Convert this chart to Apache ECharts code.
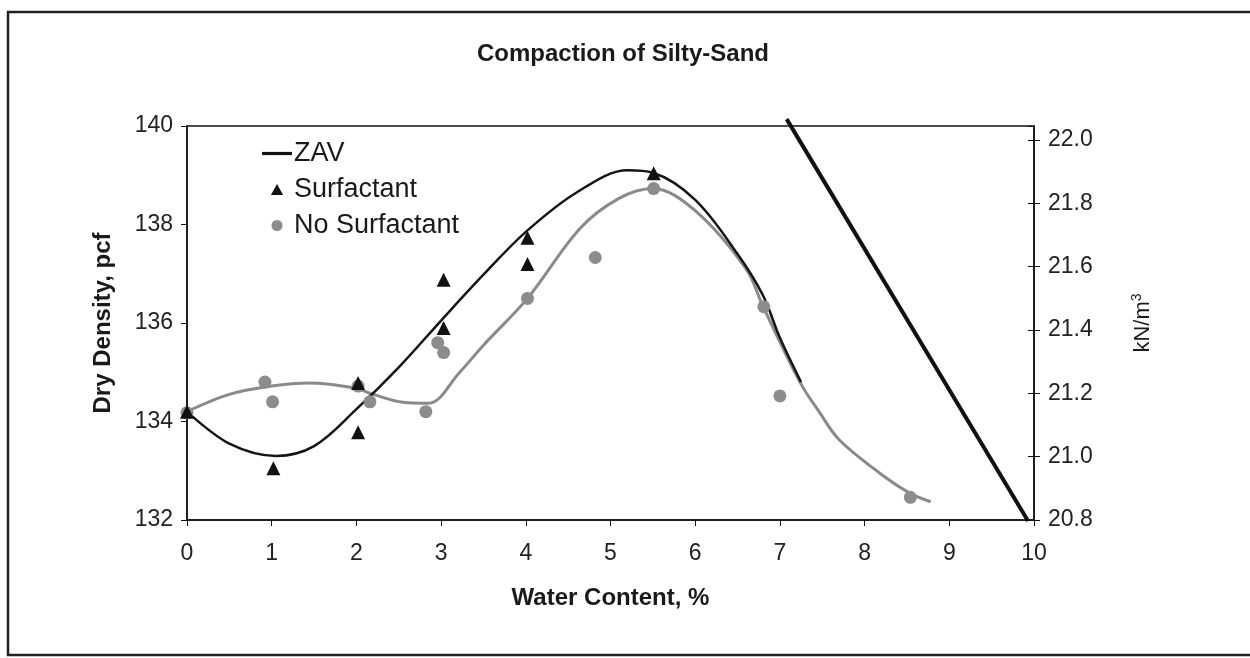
<!DOCTYPE html>
<html>
<head>
<meta charset="utf-8">
<script src="https://cdn.jsdelivr.net/npm/echarts@6/dist/echarts.min.js"></script>
<style>
  html, body { margin: 0; padding: 0; background: #fff; }
  #chart { width: 1250px; height: 658px; }
</style>
</head>
<body>
<div id="chart"></div>
<script>
// Measured compaction points: [water content %, dry density pcf]
const surfactantPts = [
  [0, 134.2], [1.02, 133.05], [2.02, 134.78], [2.02, 133.78],
  [3.03, 136.88], [3.03, 135.9], [4.02, 137.73], [4.02, 137.2], [5.51, 139.04]
];
const noSurfactantPts = [
  [0, 134.18], [0.92, 134.8], [1.01, 134.4], [2.02, 134.72], [2.16, 134.4],
  [2.82, 134.2], [2.96, 135.6], [3.03, 135.4], [4.02, 136.5], [4.82, 137.33],
  [5.51, 138.73], [6.81, 136.33], [7.0, 134.52], [8.54, 132.46]
];
// Smoothed trend curves through each set
const surfactantCurve = [
  [0, 134.2], [0.5, 133.55], [1.05, 133.3], [1.5, 133.5], [2.0, 134.25],
  [2.5, 135.1], [3.0, 136.05], [3.5, 136.98], [4.0, 137.85], [4.6, 138.65],
  [5.2, 139.1], [5.5, 139.05], [6.0, 138.5], [6.5, 137.4], [6.8, 136.56],
  [7.0, 135.7], [7.25, 134.8]
];
const noSurfactantCurve = [
  [0, 134.2], [0.5, 134.55], [1.0, 134.72], [1.45, 134.78], [2.0, 134.67],
  [2.2, 134.55], [2.55, 134.39], [2.85, 134.37], [3.22, 135.0], [3.5, 135.55],
  [4.02, 136.5], [4.64, 137.92], [5.1, 138.53], [5.5, 138.73], [6.0, 138.28],
  [6.6, 137.1], [6.8, 136.34], [7.24, 134.79], [7.47, 134.18], [7.7, 133.63],
  [8.18, 132.95], [8.54, 132.54], [8.78, 132.37]
];
// Zero-air-voids line
const zavLine = [[7.08, 140.14], [9.93, 131.98]];

const xTicks = { min: 0, max: 10, interval: 1 };
const pcfTicks = { min: 132, max: 140, interval: 2 };
const kNTicks = { min: 20.8, max: 22.044, interval: 0.2 };

const FONT = '"Liberation Sans", Arial, sans-serif';
const TICK_FONT = 23;
const TITLE_FONT = 24;
const chart = echarts.init(document.getElementById('chart'));

chart.setOption({
  backgroundColor: '#fff',
  animation: false,
  title: {
    text: 'Compaction of Silty-Sand',
    left: 618, top: 37, textAlign: 'center',
    textStyle: { fontFamily: FONT, fontSize: TITLE_FONT, fontWeight: 'bold', color: '#1a1a1a' }
  },
  legend: {
    orient: 'vertical', left: 257, top: 135, itemGap: 9,
    itemWidth: 30, itemHeight: 11, symbolKeepAspect: true,
    textStyle: { fontFamily: FONT, fontSize: 27, lineHeight: 26, color: '#1a1a1a', padding: [0, 0, 0, -3] },
    data: [
      { name: 'ZAV', icon: 'path://M0,0 L30,0 L30,3.2 L0,3.2 Z', itemStyle: { color: '#111' } },
      { name: 'Surfactant', icon: 'path://M5,0 L10,9 L0,9 Z', itemStyle: { color: '#111' } },
      { name: 'No Surfactant', icon: 'circle' }
    ]
  },
  grid: {
    left: 187, right: 216, top: 126, bottom: 138,
    show: true, borderColor: '#111', borderWidth: 1.5, backgroundColor: 'transparent'
  },
  xAxis: {
    type: 'value', ...xTicks,
    name: 'Water Content, %', nameLocation: 'middle', nameGap: 66,
    nameTextStyle: { fontFamily: FONT, fontSize: TITLE_FONT, fontWeight: 'bold', color: '#1a1a1a' },
    axisLine: { onZero: false, lineStyle: { color: '#111', width: 1.5 } },
    axisTick: { length: 6, lineStyle: { color: '#111' } },
    axisLabel: { fontFamily: FONT, fontSize: TICK_FONT, color: '#222', margin: 22 },
    splitLine: { show: false }
  },
  yAxis: [
    {
      type: 'value', ...pcfTicks, position: 'left',
      name: 'Dry Density, pcf', nameLocation: 'middle', nameGap: 72, nameRotate: 90,
      nameTextStyle: { fontFamily: FONT, fontSize: TITLE_FONT, fontWeight: 'bold', color: '#1a1a1a' },
      axisLine: { show: true, lineStyle: { color: '#111', width: 1.5 } },
      axisTick: { show: true, length: 6, lineStyle: { color: '#111' } },
      axisLabel: { fontFamily: FONT, fontSize: TICK_FONT, color: '#222', margin: 14 },
      splitLine: { show: false }
    },
    {
      type: 'value', ...kNTicks, position: 'right',
      name: 'kN/m{sup|3}', nameLocation: 'middle', nameGap: 96, nameRotate: 90,
      nameTextStyle: {
        fontFamily: FONT, fontSize: 22, color: '#1a1a1a',
        rich: { sup: { fontFamily: FONT, fontSize: 14, color: '#1a1a1a', verticalAlign: 'top', padding: [0, 0, 12, 0] } }
      },
      axisLine: { show: true, lineStyle: { color: '#111', width: 1.5 } },
      axisTick: { show: true, length: 6, lineStyle: { color: '#111' } },
      axisLabel: {
        fontFamily: FONT, fontSize: TICK_FONT, color: '#222', margin: 14, showMaxLabel: false,
        formatter: v => v.toFixed(1)
      },
      splitLine: { show: false }
    },
    {
      // inner half of the right-hand tick marks
      type: 'value', ...kNTicks, position: 'right',
      axisLine: { show: false },
      axisTick: { show: true, inside: true, length: 6, lineStyle: { color: '#111' } },
      axisLabel: { show: false, showMaxLabel: false },
      splitLine: { show: false }
    }
  ],
  series: [
    {
      name: 'No Surfactant curve', type: 'line', data: noSurfactantCurve,
      smooth: 0.35, showSymbol: false, symbol: 'none', silent: true,
      lineStyle: { color: '#8a8a8a', width: 3 }, z: 2
    },
    {
      name: 'Surfactant curve', type: 'line', data: surfactantCurve,
      smooth: 0.35, showSymbol: false, symbol: 'none', silent: true,
      lineStyle: { color: '#151515', width: 2.5 }, z: 3
    },
    {
      name: 'ZAV', type: 'line', data: zavLine, clip: false,
      showSymbol: false, symbol: 'none',
      lineStyle: { color: '#111', width: 4 }, itemStyle: { color: '#111' }, z: 3
    },
    {
      name: 'No Surfactant', type: 'scatter', data: noSurfactantPts,
      symbol: 'circle', symbolSize: 13,
      itemStyle: { color: '#8c8c8c', opacity: 1 }, z: 4
    },
    {
      name: 'Surfactant', type: 'scatter', data: surfactantPts,
      symbol: 'triangle', symbolSize: 14,
      itemStyle: { color: '#111', opacity: 1 }, z: 5
    }
  ],
  graphic: [
    {
      type: 'rect', silent: true, z: 100,
      shape: { x: 8, y: 12, width: 1250, height: 643 },
      style: { fill: 'none', stroke: '#1c2420', lineWidth: 2.5 }
    }
  ]
});
</script>
</body>
</html>
